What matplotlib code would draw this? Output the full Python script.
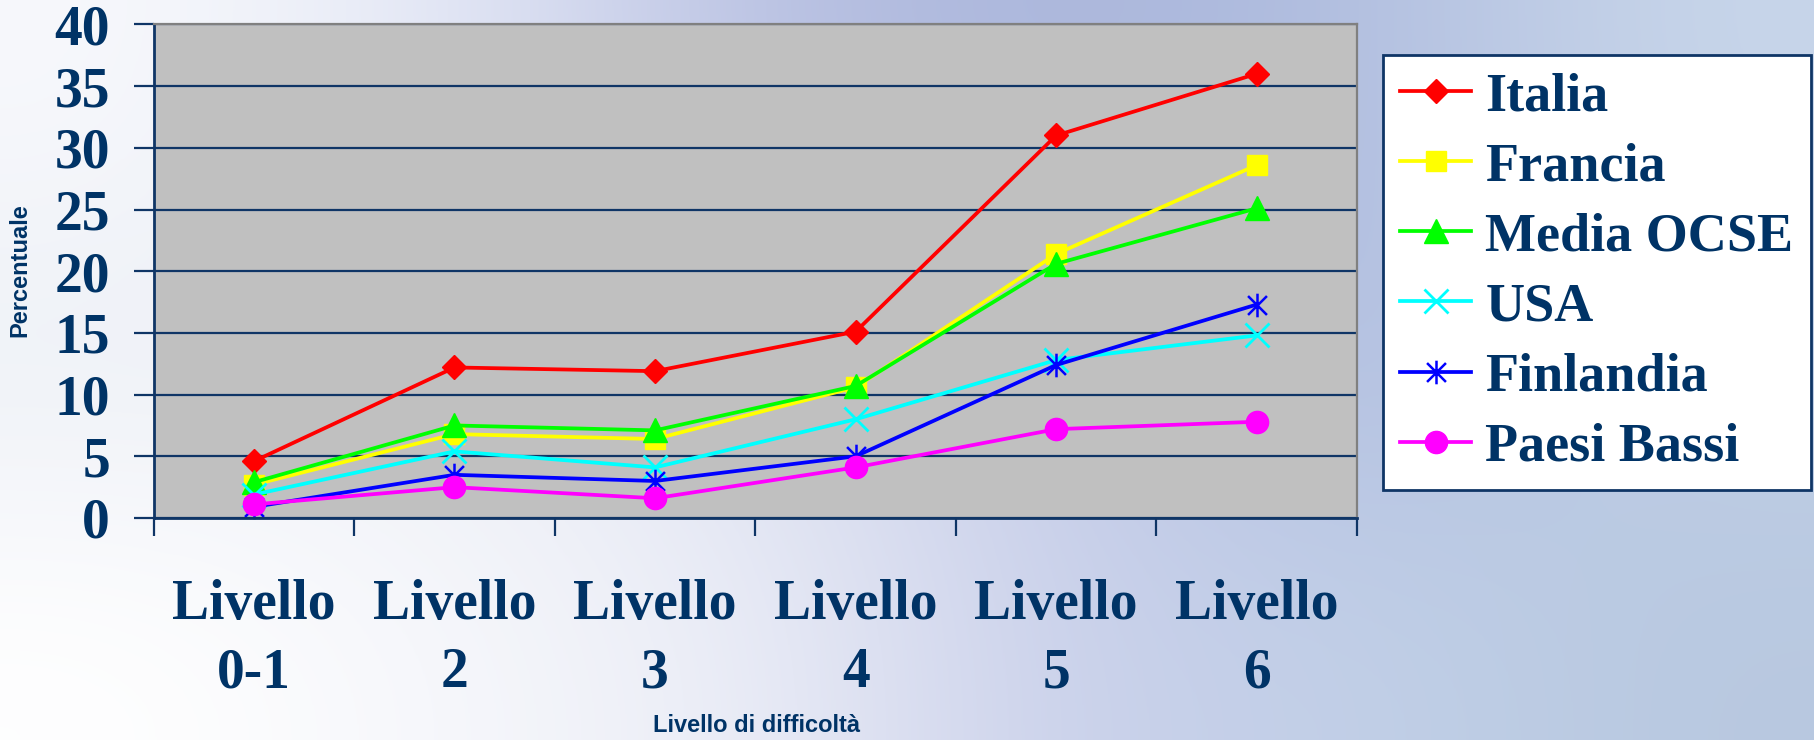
import matplotlib
matplotlib.use("Agg")
import matplotlib.pyplot as plt
import numpy as np
from matplotlib.path import Path
from matplotlib.font_manager import FontProperties

# percentuale di studenti per livello di difficoltà
livelli = ["0-1", "2", "3", "4", "5", "6"]
paesi = ["Italia", "Francia", "Media OCSE", "USA", "Finlandia", "Paesi Bassi"]
italia = [4.6, 12.2, 11.9, 15.1, 31.0, 36.0]
francia = [2.7, 6.8, 6.4, 10.6, 21.4, 28.6]
media_ocse = [2.9, 7.5, 7.1, 10.7, 20.6, 25.1]
usa = [1.9, 5.4, 4.1, 8.0, 12.8, 14.8]
finlandia = [0.9, 3.5, 3.0, 5.0, 12.4, 17.3]
paesi_bassi = [1.1, 2.5, 1.6, 4.1, 7.2, 7.8]

navy = "#0f3566"
text_col = "#003366"

# asterisco: tratto verticale + due diagonali
asterisk = Path(
    [(0, -1), (0, 1), (-0.8, -0.8), (0.8, 0.8), (-0.8, 0.8), (0.8, -0.8)],
    [Path.MOVETO, Path.LINETO, Path.MOVETO, Path.LINETO, Path.MOVETO, Path.LINETO],
)

stili = [
    dict(color="#ff0000", marker="D", ms=12),
    dict(color="#ffff00", marker="s", ms=15),
    dict(color="#00ff00", marker="^", ms=17),
    dict(color="#00ffff", marker="x", ms=17, mew=2),
    dict(color="#0000ff", marker=asterisk, ms=17, mew=1.8),
    dict(color="#ff00ff", marker="o", ms=16),
]
serie = [italia, francia, media_ocse, usa, finlandia, paesi_bassi]

fig = plt.figure(figsize=(18.14, 7.4), dpi=100)

# sfondo della diapositiva
bg = fig.add_axes([0, 0, 1, 1], zorder=-10)
grid_cols = np.array([
    ["#f8f9fc", "#e4e8f6", "#b8c0e2", "#a8b4da", "#b2bfe0", "#c8d6ea"],
    ["#eceff6", "#f0f2f8", "#dfe3f1", "#c6cde9", "#aebcdf", "#c0cfe6"],
    ["#ffffff", "#f6f7fb", "#eceef7", "#c9cfea", "#c2d1e8", "#b8c8e0"],
])
rgb = np.array([[matplotlib.colors.to_rgb(c) for c in row] for row in grid_cols])
bg.imshow(rgb, extent=[0, 1, 0, 1], aspect="auto", interpolation="bicubic")
bg.axis("off")

ax = fig.add_axes([0.0847, 0.3, 0.6634, 0.667])
ax.set_facecolor("#c0c0c0")

x = np.arange(len(livelli))
handles = []
for vals, st in zip(serie, stili):
    st = dict(st)
    c = st.pop("color")
    (h,) = ax.plot(x, vals, color=c, lw=2.7, mec=c, mfc=c, clip_on=False, **st)
    handles.append(h)

ax.set_xlim(-0.5, 5.5)
ax.set_ylim(0, 40)

tick_font = FontProperties(family="Liberation Serif", weight="bold", size=40)
leg_font = FontProperties(family="Liberation Serif", weight="bold", size=39)

ax.set_yticks(range(0, 41, 5))
ax.yaxis.grid(True, color=navy, lw=1.6)
ax.set_axisbelow(True)
ax.tick_params(axis="y", length=14.5, width=1.6, color=navy, pad=17)
for t in ax.get_yticklabels():
    t.set_fontproperties(tick_font)
    t.set_color(text_col)

ax.set_xticks(x)
ax.set_xticklabels(["Livello\n" + l for l in livelli], linespacing=1.4)
ax.tick_params(axis="x", which="major", length=0, pad=44)
ax.set_xticks(np.arange(-0.5, 6, 1), minor=True)
ax.tick_params(axis="x", which="minor", length=13, width=1.6, color=navy)
for t in ax.get_xticklabels():
    t.set_fontproperties(tick_font)
    t.set_color(text_col)

for s in ["left", "bottom"]:
    ax.spines[s].set_color(navy)
    ax.spines[s].set_linewidth(2)
for s in ["top", "right"]:
    ax.spines[s].set_color("#808080")
    ax.spines[s].set_linewidth(1.6)

lab_font = dict(family="Liberation Sans", weight="bold", size=17, color=text_col)
fig.text(20 / 1814, 1 - 270 / 740, "Percentuale", rotation=90,
         ha="center", va="center", **lab_font)
fig.text(757 / 1814, 1 - 726 / 740, "Livello di difficoltà",
         ha="center", va="center", **lab_font)

leg = fig.legend(handles, paesi, loc="upper left",
                 bbox_to_anchor=(1383 / 1814, 1 - 55 / 740),
                 prop=leg_font, frameon=True, fancybox=False,
                 facecolor="white", edgecolor=navy, framealpha=1,
                 handlelength=1.3, handletextpad=0.27, labelspacing=0.37,
                 borderpad=0.32, borderaxespad=0)
leg.get_frame().set_linewidth(2)
for t in leg.get_texts():
    t.set_color(text_col)

fig.savefig("out.png", dpi=100)
